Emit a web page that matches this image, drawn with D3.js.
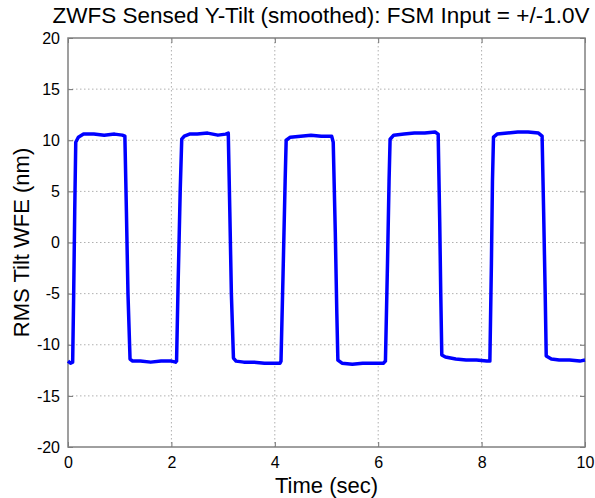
<!DOCTYPE html>
<html>
<head>
<meta charset="utf-8">
<script src="https://cdn.jsdelivr.net/npm/d3@7"></script>
<style>
body { margin: 0; background: #fff; }
text { font-family: "Liberation Sans", Arial, sans-serif; fill: #000; }
</style>
</head>
<body>
<script>
// time samples (sec)
var timeSec = [0, 0.05, 0.09, 0.11, 0.13, 0.15, 0.2, 0.3, 0.5, 0.7, 0.9, 1.05,
  1.1, 1.13, 1.16, 1.2, 1.25, 1.4, 1.6, 1.8, 2.0, 2.08,
  2.1, 2.13, 2.17, 2.2, 2.25, 2.35, 2.5, 2.7, 2.9, 3.05,
  3.1, 3.13, 3.16, 3.2, 3.25, 3.4, 3.6, 3.8, 4.0, 4.1,
  4.12, 4.16, 4.2, 4.22, 4.3, 4.5, 4.7, 4.9, 5.1,
  5.13, 5.17, 5.2, 5.22, 5.3, 5.5, 5.7, 5.9, 6.1,
  6.14, 6.18, 6.21, 6.23, 6.3, 6.5, 6.7, 6.9, 7.1,
  7.16, 7.19, 7.21, 7.23, 7.3, 7.5, 7.7, 7.9, 8.1,
  8.16, 8.19, 8.21, 8.23, 8.3, 8.5, 8.7, 8.9, 9.1,
  9.17, 9.2, 9.23, 9.25, 9.35, 9.5, 9.7, 9.9, 10.0];

// RMS tilt WFE (nm)
var tiltNm = [-11.6, -11.8, -11.7, -5, 3, 9.8, 10.3, 10.6, 10.6, 10.5, 10.6, 10.5,
  10.4, 3, -5, -11.4, -11.6, -11.6, -11.7, -11.6, -11.6, -11.7,
  -11.6, -4, 5, 10.1, 10.4, 10.6, 10.6, 10.7, 10.5, 10.6,
  10.7, 3, -5, -11.3, -11.6, -11.7, -11.7, -11.8, -11.8, -11.8,
  -11.6, -3, 6, 10.0, 10.3, 10.4, 10.5, 10.4, 10.4,
  9.8, 1, -7, -11.5, -11.8, -11.9, -11.8, -11.8, -11.8,
  -11.6, -2, 6, 10.1, 10.5, 10.6, 10.7, 10.7, 10.8,
  10.6, 2, -5, -11.0, -11.2, -11.4, -11.5, -11.5, -11.6,
  -11.6, -2, 6, 10.3, 10.6, 10.7, 10.8, 10.8, 10.7,
  10.4, 3, -5, -11.1, -11.4, -11.5, -11.5, -11.6, -11.5];

var xTicks = [0, 2, 4, 6, 8, 10];
var yTicks = [-20, -15, -10, -5, 0, 5, 10, 15, 20];

var margin = {top: 38, right: 10, bottom: 51, left: 68}
, width = 595 - margin.left - margin.right
, height = 498 - margin.top - margin.bottom;

var x = d3.scaleLinear().domain([0, 10]).range([0, width]);
var y = d3.scaleLinear().domain([-20, 20]).range([height, 0]);

var svg = d3.select('body').append('svg')
    .attr('width', 595)
    .attr('height', 498);

var main = svg.append('g')
    .attr('transform', 'translate(' + margin.left + ',' + margin.top + ')');

// grid
main.selectAll('.gx').data(xTicks.slice(1, -1)).enter().append('line')
    .attr('x1', function(d) { return x(d); }).attr('x2', function(d) { return x(d); })
    .attr('y1', 0).attr('y2', height)
    .attr('stroke', '#b0b0b0').attr('stroke-dasharray', '1.5,2.5');
main.selectAll('.gy').data(yTicks.slice(1, -1)).enter().append('line')
    .attr('y1', function(d) { return y(d); }).attr('y2', function(d) { return y(d); })
    .attr('x1', 0).attr('x2', width)
    .attr('stroke', '#b0b0b0').attr('stroke-dasharray', '1.5,2.5');

// axes, ticks pointing inward
var fmt = function(d) { return String(d); };
var axStyle = function(g) {
  g.select('.domain').remove();
  g.selectAll('.tick line').attr('stroke', '#707070');
  g.selectAll('.tick text').style('font-size', '16px').attr('fill', '#000');
};
main.append('g').attr('transform', 'translate(0,' + height + ')')
    .call(d3.axisBottom(x).tickValues(xTicks).tickSizeInner(-5).tickPadding(10).tickFormat(fmt))
    .call(axStyle);
main.append('g')
    .call(d3.axisLeft(y).tickValues(yTicks).tickSizeInner(-5).tickPadding(8).tickFormat(fmt))
    .call(axStyle);
main.append('g')
    .call(d3.axisTop(x).tickValues(xTicks).tickSizeInner(-5).tickFormat(''))
    .call(axStyle);
main.append('g').attr('transform', 'translate(' + width + ',0)')
    .call(d3.axisRight(y).tickValues(yTicks).tickSizeInner(-5).tickFormat(''))
    .call(axStyle);

main.append('rect')
    .attr('width', width).attr('height', height)
    .attr('fill', 'none').attr('stroke', '#808080').attr('stroke-width', 1.5);

// trace
var pts = timeSec.map(function(t, i) { return [t, tiltNm[i]]; });
main.append('path')
    .datum(pts)
    .attr('fill', 'none')
    .attr('stroke', '#0000ff')
    .attr('stroke-width', 3.5)
    .attr('stroke-linejoin', 'round')
    .attr('d', d3.line().x(function(d) { return x(d[0]); }).y(function(d) { return y(d[1]); }));

// labels
svg.append('text').attr('x', 321).attr('y', 23).style('text-anchor', 'middle')
    .style('font-size', '22.5px').text('ZWFS Sensed Y-Tilt (smoothed): FSM Input = +/-1.0V');
svg.append('text').attr('x', margin.left + width / 2).attr('y', 493).style('text-anchor', 'middle')
    .style('font-size', '22px').text('Time (sec)');
svg.append('text').attr('transform', 'translate(29,' + (margin.top + height / 2) + ') rotate(-90)')
    .style('text-anchor', 'middle').style('font-size', '22px').text('RMS Tilt WFE (nm)');
</script>
</body>
</html>
